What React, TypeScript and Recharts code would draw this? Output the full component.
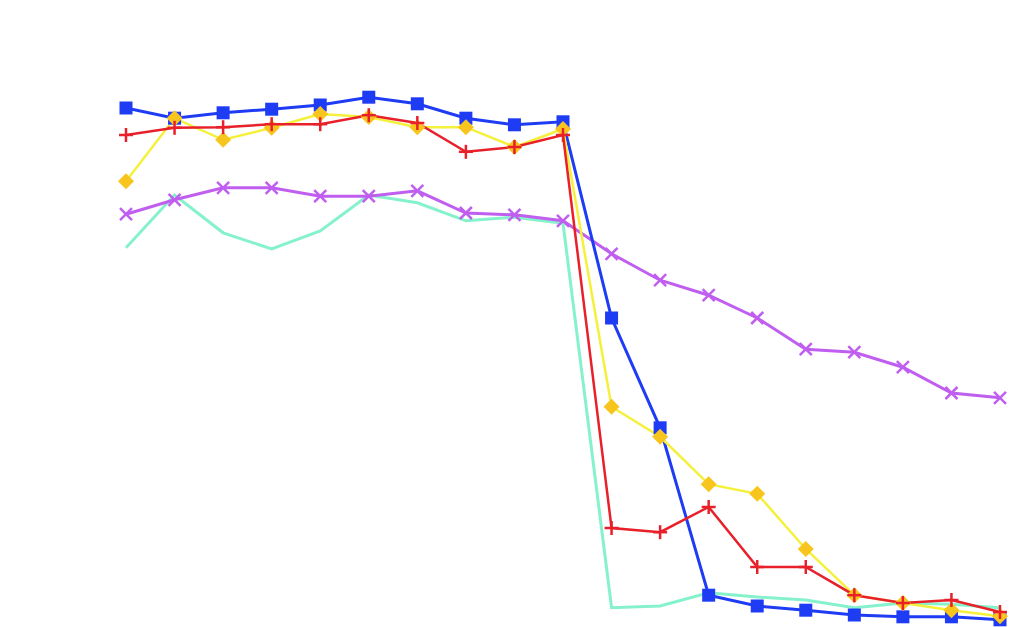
import React from "react";
import { LineChart, Line, XAxis, YAxis } from "recharts";

const categories = ["1","2","3","4","5","6","7","8","9","10","11","12","13","14","15","16","17","18","19"];
const blueSeries = [86.5, 84.8, 85.7, 86.3, 87.0, 88.3, 87.2, 84.8, 83.7, 84.2, 51.5, 33.2, 5.3, 3.5, 2.8, 2.0, 1.7, 1.7, 1.2];
const yellowSeries = [74.3, 84.8, 81.2, 83.2, 85.5, 85.0, 83.3, 83.3, 80.0, 83.0, 36.7, 31.7, 23.8, 22.2, 13.0, 5.3, 4.0, 2.8, 1.8];
const redSeries = [82.0, 83.2, 83.3, 83.8, 83.8, 85.3, 84.0, 79.2, 80.0, 82.0, 16.5, 15.8, 20.0, 10.0, 10.0, 5.3, 4.0, 4.5, 2.5];
const purpleSeries = [68.8, 71.2, 73.2, 73.2, 71.8, 71.8, 72.7, 69.0, 68.7, 67.7, 62.2, 57.8, 55.3, 51.5, 46.3, 45.8, 43.3, 39.0, 38.2];
const tealSeries = [63.2, 72.0, 65.7, 63.0, 66.0, 72.0, 70.7, 67.7, 68.3, 67.3, 3.2, 3.5, 5.7, 5.0, 4.5, 3.2, 4.0, 3.8, 3.2];

const data = categories.map((c, i) => ({
  name: c,
  blue: blueSeries[i],
  yellow: yellowSeries[i],
  red: redSeries[i],
  purple: purpleSeries[i],
  teal: tealSeries[i],
}));

const SquareDot = (props: any) => {
  const { cx, cy, index } = props;
  if (cx == null || cy == null) return null;
  const s = 13;
  return <rect key={`sq-${index}`} x={cx - s / 2} y={cy - s / 2} width={s} height={s} fill="#1f3cf5" />;
};

const DiamondDot = (props: any) => {
  const { cx, cy, index } = props;
  if (cx == null || cy == null) return null;
  const r = 8;
  return (
    <polygon
      key={`dm-${index}`}
      points={`${cx},${cy - r} ${cx + r},${cy} ${cx},${cy + r} ${cx - r},${cy}`}
      fill="#f7c51e"
    />
  );
};

const PlusDot = (props: any) => {
  const { cx, cy, index } = props;
  if (cx == null || cy == null) return null;
  const r = 7;
  return (
    <g key={`pl-${index}`} stroke="#e8202a" strokeWidth={2.5}>
      <line x1={cx - r} y1={cy} x2={cx + r} y2={cy} />
      <line x1={cx} y1={cy - r} x2={cx} y2={cy + r} />
    </g>
  );
};

const CrossDot = (props: any) => {
  const { cx, cy, index } = props;
  if (cx == null || cy == null) return null;
  const r = 6;
  return (
    <g key={`cr-${index}`} stroke="#c05ef0" strokeWidth={2.5}>
      <line x1={cx - r} y1={cy - r} x2={cx + r} y2={cy + r} />
      <line x1={cx - r} y1={cy + r} x2={cx + r} y2={cy - r} />
    </g>
  );
};

export default function App() {
  return (
    <div style={{ position: "absolute", top: 0, left: 0, width: 1024, height: 627, background: "#ffffff" }}>
      <LineChart width={1024} height={627} data={data} margin={{ top: 0, right: 24, bottom: 0, left: 126 }}>
        <XAxis dataKey="name" hide />
        <YAxis hide domain={[0, 104.5]} />
        <Line type="linear" dataKey="teal" stroke="#85f2cc" strokeWidth={3} dot={false} isAnimationActive={false} />
        <Line type="linear" dataKey="purple" stroke="#c05ef0" strokeWidth={3} dot={<CrossDot />} isAnimationActive={false} />
        <Line type="linear" dataKey="blue" stroke="#1f3cf5" strokeWidth={3} dot={<SquareDot />} isAnimationActive={false} />
        <Line type="linear" dataKey="yellow" stroke="#f5f03a" strokeWidth={2.5} dot={<DiamondDot />} isAnimationActive={false} />
        <Line type="linear" dataKey="red" stroke="#e8202a" strokeWidth={2.5} dot={<PlusDot />} isAnimationActive={false} />
      </LineChart>
    </div>
  );
}
